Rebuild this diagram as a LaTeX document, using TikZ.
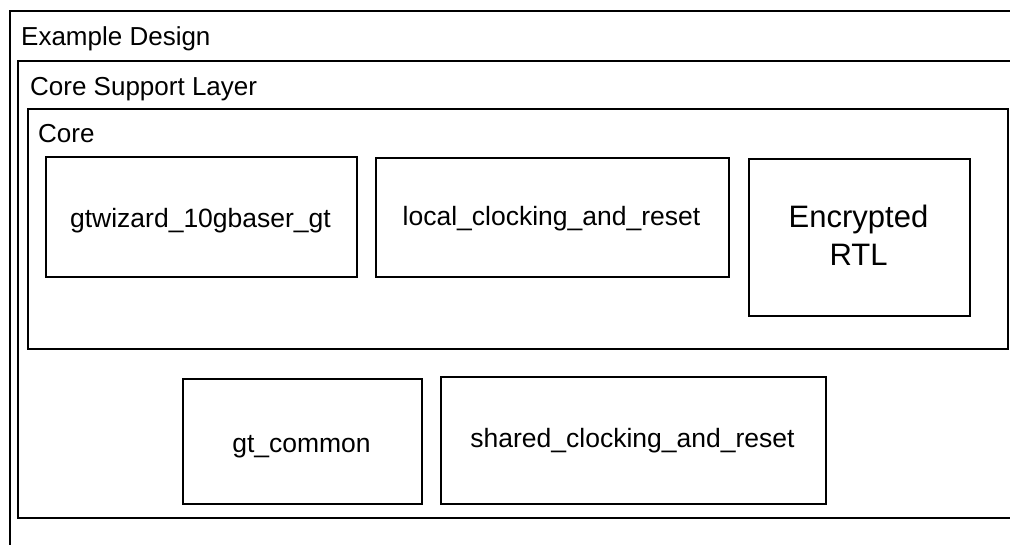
\documentclass[tikz,border=0pt]{standalone}
\usepackage{fontspec}
\setmainfont{Liberation Sans}
\begin{document}
\begin{tikzpicture}[x=1pt,y=-1pt,
  frame/.style={line width=1.9pt, draw=black},
  blk/.style={frame, rectangle, inner sep=0pt, anchor=north west},
  ttl/.style={anchor=base west, inner sep=0pt, font=\fontsize{26}{31}\selectfont},
  lbl/.style={anchor=base, inner sep=0pt, font=\fontsize{26.5}{31}\selectfont},
  big/.style={anchor=base, inner sep=0pt, align=center, font=\fontsize{31}{38}\selectfont}]
\useasboundingbox (0,0) rectangle (1010,544);
% Example Design (open to the right and bottom)
\coordinate (edtr) at (1012,11);
\coordinate (edtl) at (10,11);
\coordinate (edbl) at (10,546);
\draw[frame] (edtr) -- (edtl) -- (edbl);
\node[ttl] (edt) at (21,45) {Example Design};
% Core Support Layer (open to the right)
\coordinate (csltr) at (1012,61);
\coordinate (csltl) at (18,61);
\coordinate (cslbl) at (18,518);
\coordinate (cslbr) at (1012,518);
\draw[frame] (csltr) -- (csltl) -- (cslbl) -- (cslbr);
\node[ttl] (cslt) at (30,95) {Core Support Layer};
% Core
\node[blk, minimum width=980pt, minimum height=240pt] (core) at (27,108) {};
\node[ttl] (coret) at (38,142) {Core};
% blocks inside Core
\node[blk, minimum width=311pt, minimum height=120pt] (gtw) at (45,156) {};
\node[lbl] (gtwt) at (200.5,227) {gtwizard\_10gbaser\_gt};
\node[blk, minimum width=353pt, minimum height=119pt] (loc) at (375,157) {};
\node[lbl] (loct) at (551.5,225) {local\_clocking\_and\_reset};
\node[blk, minimum width=221pt, minimum height=157pt] (enc) at (748,158) {};
\node[big] (enct) at (858.5,265) {Encrypted\\RTL};
% blocks in Core Support Layer
\node[blk, minimum width=239pt, minimum height=125pt] (gtc) at (182,378) {};
\node[lbl] (gtct) at (301.5,452) {gt\_common};
\node[blk, minimum width=385pt, minimum height=127pt] (shr) at (440,376) {};
\node[lbl] (shrt) at (632.5,447) {shared\_clocking\_and\_reset};
\end{tikzpicture}
\end{document}
